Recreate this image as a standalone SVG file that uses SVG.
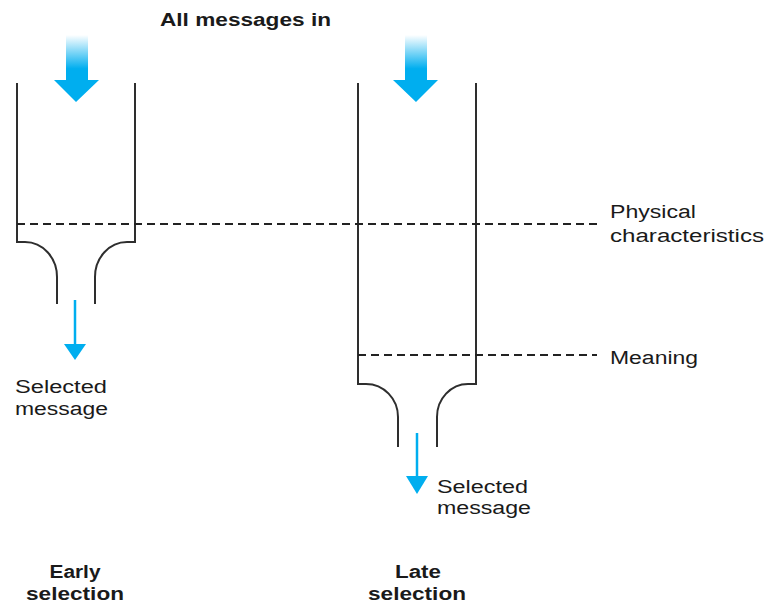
<svg xmlns="http://www.w3.org/2000/svg" width="766" height="604" viewBox="0 0 766 604">
<style>
.wall{fill:none;stroke:#2e2e2e;stroke-width:2}
.dash{fill:none;stroke:#222;stroke-width:1.8;stroke-dasharray:8 5}
.blue{stroke:#00aeef;stroke-width:2.5;fill:none}
.head{fill:#00aeef}
.t{font-family:"Liberation Sans",Arial,sans-serif;font-size:18px;fill:#1a1a1a}
.b{font-weight:bold}
</style>
<defs>
<linearGradient id="g" x1="0" y1="35" x2="0" y2="80" gradientUnits="userSpaceOnUse">
<stop offset="0" stop-color="#00aeef" stop-opacity="0"/>
<stop offset="0.75" stop-color="#00aeef" stop-opacity="1"/>
<stop offset="1" stop-color="#00aeef"/>
</linearGradient>
</defs>
<rect width="766" height="604" fill="#fff"/>
<g id="title"><text class="t b" x="160" y="26" textLength="171" lengthAdjust="spacingAndGlyphs">All messages in</text></g>
<g id="early">
<path class="wall" d="M17,83 V242 H25 A32 35 0 0 1 57 277 V304"/>
<path class="wall" d="M135,83 V242 H127 A32 35 0 0 0 95 277 V304"/>
<path fill="url(#g)" d="M66,35 H88 V80 H99 L76,102 L54,80 H66 Z"/>
<text class="t b" x="75" y="578" text-anchor="middle" textLength="51" lengthAdjust="spacingAndGlyphs">Early</text>
<text class="t b" x="75" y="600" text-anchor="middle" textLength="98" lengthAdjust="spacingAndGlyphs">selection</text>
</g>
<g id="late">
<path class="wall" d="M358,83 V384 H366 A32 33 0 0 1 398 417 V447"/>
<path class="wall" d="M476,83 V384 H468 A31 33 0 0 0 437 417 V447"/>
<path fill="url(#g)" d="M405,35 H427 V80 H438 L416,102 L393,80 H405 Z"/>
<text class="t b" x="418" y="578" text-anchor="middle" textLength="46" lengthAdjust="spacingAndGlyphs">Late</text>
<text class="t b" x="417" y="600" text-anchor="middle" textLength="98" lengthAdjust="spacingAndGlyphs">selection</text>
</g>
<g id="physical">
<text class="t" x="610" y="218" textLength="86" lengthAdjust="spacingAndGlyphs">Physical</text>
<text class="t" x="610" y="242" textLength="154" lengthAdjust="spacingAndGlyphs">characteristics</text>
</g>
<g id="meaning">
<text class="t" x="610" y="364" textLength="88" lengthAdjust="spacingAndGlyphs">Meaning</text>
</g>
<g id="out-early">
<text class="t" x="15" y="393" textLength="92" lengthAdjust="spacingAndGlyphs">Selected</text>
<text class="t" x="15" y="415" textLength="93" lengthAdjust="spacingAndGlyphs">message</text>
</g>
<g id="out-late">
<text class="t" x="437" y="493" textLength="91" lengthAdjust="spacingAndGlyphs">Selected</text>
<text class="t" x="437" y="514" textLength="94" lengthAdjust="spacingAndGlyphs">message</text>
</g>
<g id="connectors">
<line class="dash" x1="17" y1="224" x2="598" y2="224"/>
<line class="dash" x1="358" y1="355" x2="597" y2="355"/>
<line class="blue" x1="75" y1="300" x2="75" y2="346"/>
<path class="head" d="M64,344 H86 L75,360 Z"/>
<line class="blue" x1="417" y1="433" x2="417" y2="478"/>
<path class="head" d="M406,476 H428 L417,494 Z"/>
</g>
</svg>
